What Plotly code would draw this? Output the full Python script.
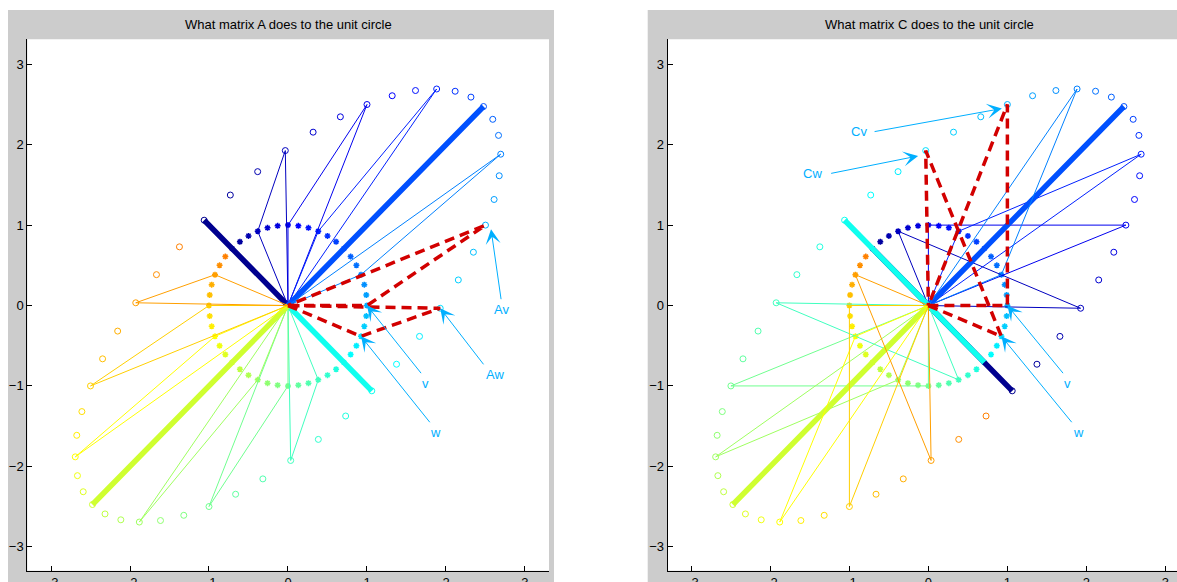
import plotly.graph_objects as go

# ---------------- data ----------------
# unit-circle sample points (asterisks), ordered as coloured (navy -> orange)
unit_x = [-0.707, -0.609, -0.5, -0.383, -0.259, -0.131, 0.0, 0.131, 0.259, 0.383, 0.5, 0.609,
          0.707, 0.793, 0.866, 0.924, 0.966, 0.991, 1.0, 0.991, 0.966, 0.924, 0.866, 0.793,
          0.707, 0.609, 0.5, 0.383, 0.259, 0.131, 0.0, -0.131, -0.259, -0.383, -0.5, -0.609,
          -0.707, -0.793, -0.866, -0.924, -0.966, -0.991, -1.0, -0.991, -0.966, -0.924, -0.866, -0.793]
unit_y = [0.707, 0.793, 0.866, 0.924, 0.966, 0.991, 1.0, 0.991, 0.966, 0.924, 0.866, 0.793,
          0.707, 0.609, 0.5, 0.383, 0.259, 0.131, 0.0, -0.131, -0.259, -0.383, -0.5, -0.609,
          -0.707, -0.793, -0.866, -0.924, -0.966, -0.991, -1.0, -0.991, -0.966, -0.924, -0.866, -0.793,
          -0.707, -0.609, -0.5, -0.383, -0.259, -0.131, 0.0, 0.131, 0.259, 0.383, 0.5, 0.609]

# images of those points under matrix A (circles, left panel)
ellA_x = [-1.061, -0.730, -0.384, -0.034, 0.318, 0.663, 1.0, 1.319, 1.614, 1.882, 2.116, 2.316,
          2.475, 2.592, 2.665, 2.693, 2.674, 2.609, 2.5, 2.347, 2.156, 1.927, 1.665, 1.374,
          1.061, 0.730, 0.384, 0.034, -0.318, -0.663, -1.0, -1.319, -1.614, -1.882, -2.116, -2.316,
          -2.475, -2.592, -2.665, -2.693, -2.674, -2.609, -2.5, -2.347, -2.156, -1.927, -1.665, -1.374]
ellA_y = [1.061, 1.374, 1.665, 1.927, 2.156, 2.347, 2.5, 2.609, 2.674, 2.693, 2.665, 2.592,
          2.475, 2.316, 2.116, 1.882, 1.614, 1.319, 1.0, 0.663, 0.318, -0.034, -0.384, -0.730,
          -1.061, -1.374, -1.665, -1.927, -2.156, -2.347, -2.5, -2.609, -2.674, -2.693, -2.665, -2.592,
          -2.475, -2.316, -2.116, -1.882, -1.614, -1.319, -1.0, -0.663, -0.318, 0.034, 0.384, 0.730]

# images of the same points under matrix C (circles, right panel)
ellC_x = [1.061, 1.374, 1.665, 1.927, 2.156, 2.347, 2.5, 2.609, 2.674, 2.693, 2.665, 2.592,
          2.475, 2.316, 2.116, 1.882, 1.614, 1.319, 1.0, 0.663, 0.318, -0.034, -0.384, -0.730,
          -1.061, -1.374, -1.665, -1.927, -2.156, -2.347, -2.5, -2.609, -2.674, -2.693, -2.665, -2.592,
          -2.475, -2.316, -2.116, -1.882, -1.614, -1.319, -1.0, -0.663, -0.318, 0.034, 0.384, 0.730]
ellC_y = [-1.061, -0.730, -0.384, -0.034, 0.318, 0.663, 1.0, 1.319, 1.614, 1.882, 2.116, 2.316,
          2.475, 2.592, 2.665, 2.693, 2.674, 2.609, 2.5, 2.347, 2.156, 1.927, 1.665, 1.374,
          1.061, 0.730, 0.384, 0.034, -0.318, -0.663, -1.0, -1.319, -1.614, -1.882, -2.116, -2.316,
          -2.475, -2.592, -2.665, -2.693, -2.674, -2.609, -2.5, -2.347, -2.156, -1.927, -1.665, -1.374]

# per-point colours (jet-like, navy -> orange)
point_colors = [
    "#00008f", "#00009f", "#0000af", "#0000bf", "#0000cf", "#0000df", "#0000ef", "#0000ff",
    "#0010ff", "#0020ff", "#0030ff", "#0040ff", "#0050ff", "#0060ff", "#0070ff", "#0080ff",
    "#008fff", "#009fff", "#00afff", "#00bfff", "#00cfff", "#00dfff", "#00efff", "#00ffff",
    "#10ffef", "#20ffdf", "#30ffcf", "#40ffbf", "#50ffaf", "#60ff9f", "#70ff8f", "#80ff80",
    "#8fff70", "#9fff60", "#afff50", "#bfff40", "#cfff30", "#dfff20", "#efff10", "#ffff00",
    "#ffef00", "#ffdf00", "#ffcf00", "#ffbf00", "#ffaf00", "#ff9f00", "#ff8f00", "#ff8000"]

# which points get a triangle (origin -> point -> image -> origin); 1-based indices
thin_idx = [4, 7, 10, 16, 28, 31, 34, 40, 43, 46]
thick_idx = [1, 13, 25, 37]
red_idx = [19, 22]          # v and w

panel_titles = ["What matrix A does to the unit circle", "What matrix C does to the unit circle"]
tick_vals = [-3, -2, -1, 0, 1, 2, 3]

# arrow annotations: (label, label_x, label_y, tail_x, tail_y, tip_x, tip_y)
arrows_A = [
    ("v", 1.74, -0.97, 1.70, -0.86, 1.0, 0.0),
    ("w", 1.87, -1.58, 1.81, -1.47, 0.924, -0.383),
    ("Av", 2.70, -0.05, 2.70, 0.06, 2.57, 0.95),
    ("Aw", 2.62, -0.86, 2.49, -0.75, 1.927, -0.034),
]
arrows_C = [
    ("v", 1.76, -0.97, 1.72, -0.86, 1.0, 0.0),
    ("w", 1.90, -1.58, 1.83, -1.47, 0.924, -0.383),
    ("Cv", -0.88, 2.16, -0.70, 2.16, 0.93, 2.45),
    ("Cw", -1.47, 1.64, -1.25, 1.64, -0.13, 1.86),
]

# ---------------- figure ----------------
W, H = 1177, 582
FONT = "Liberation Sans, Arial, Helvetica, sans-serif"
LABEL_COLOR = "#00afff"
RED = "rgb(210,0,0)"

fig = go.Figure()


def add_panel(ell_x, ell_y, xa, ya):
    # unit circle asterisks
    fig.add_trace(go.Scatter(x=unit_x, y=unit_y, mode="markers", xaxis=xa, yaxis=ya,
                             marker=dict(symbol="asterisk-open", size=5, color=point_colors,
                                         line=dict(width=1.5, color=point_colors)),
                             showlegend=False, hoverinfo="skip"))
    # ellipse circles
    fig.add_trace(go.Scatter(x=ell_x, y=ell_y, mode="markers", xaxis=xa, yaxis=ya,
                             marker=dict(symbol="circle-open", size=6, color=point_colors,
                                         line=dict(width=1.0, color=point_colors)),
                             showlegend=False, hoverinfo="skip"))
    order = sorted(thin_idx + thick_idx)
    for k in order:
        i = k - 1
        w = 5.5 if k in thick_idx else 1.0
        fig.add_trace(go.Scatter(x=[0, unit_x[i], ell_x[i], 0], y=[0, unit_y[i], ell_y[i], 0],
                                 mode="lines", xaxis=xa, yaxis=ya,
                                 line=dict(color=point_colors[i], width=w),
                                 showlegend=False, hoverinfo="skip"))
    for k in red_idx:
        i = k - 1
        fig.add_trace(go.Scatter(x=[0, unit_x[i], ell_x[i], 0], y=[0, unit_y[i], ell_y[i], 0],
                                 mode="lines", xaxis=xa, yaxis=ya,
                                 line=dict(color=RED, width=3.5, dash="10px,6px"),
                                 showlegend=False, hoverinfo="skip"))


add_panel(ellA_x, ellA_y, "x", "y")
add_panel(ellC_x, ellC_y, "x2", "y2")

annotations = []
for arrows, xr, yr in [(arrows_A, "x", "y"), (arrows_C, "x2", "y2")]:
    for lab, lx, ly, tx, ty, hx, hy in arrows:
        annotations.append(dict(x=hx, y=hy, ax=tx, ay=ty, xref=xr, yref=yr, axref=xr, ayref=yr,
                                text="", showarrow=True, arrowhead=3, arrowsize=2.5, arrowwidth=1,
                                arrowcolor=LABEL_COLOR, standoff=0, startstandoff=0))
        annotations.append(dict(x=lx, y=ly, xref=xr, yref=yr, text=lab, showarrow=False,
                                font=dict(family=FONT, size=13, color=LABEL_COLOR),
                                xanchor="center", yanchor="middle"))

# panel titles
annotations.append(dict(x=288.4 / W, y=1 - 25 / H, xref="paper", yref="paper", text=panel_titles[0],
                        showarrow=False, font=dict(family=FONT, size=13, color="#000000"),
                        xanchor="center", yanchor="middle"))
annotations.append(dict(x=929.5 / W, y=1 - 25 / H, xref="paper", yref="paper", text=panel_titles[1],
                        showarrow=False, font=dict(family=FONT, size=13, color="#000000"),
                        xanchor="center", yanchor="middle"))

GRAY = "#cccccc"
shapes = [
    dict(type="rect", xref="paper", yref="paper", x0=8 / W, x1=554 / W, y0=-0.05, y1=1 - 10 / H,
         fillcolor=GRAY, line=dict(width=0), layer="below"),
    dict(type="rect", xref="paper", yref="paper", x0=647.7 / W, x1=1.05, y0=-0.05, y1=1 - 10 / H,
         fillcolor=GRAY, line=dict(width=0), layer="below"),
    dict(type="rect", xref="paper", yref="paper", x0=27.3 / W, x1=549 / W, y0=1 - 570.7 / H, y1=1 - 39.3 / H,
         fillcolor="white", line=dict(width=0), layer="below"),
    dict(type="rect", xref="paper", yref="paper", x0=667.7 / W, x1=1.05, y0=1 - 570.7 / H, y1=1 - 39.3 / H,
         fillcolor="white", line=dict(width=0), layer="below"),
]

axis_common = dict(tickvals=tick_vals, ticks="inside", ticklen=5, tickwidth=1, tickcolor="black",
                   showline=True, linecolor="black", linewidth=1, showgrid=False, zeroline=False,
                   tickfont=dict(family=FONT, size=13, color="black"), mirror=False, automargin=False)

fig.update_layout(
    width=W, height=H, margin=dict(l=0, r=0, t=0, b=0, autoexpand=False),
    paper_bgcolor="white", plot_bgcolor="rgba(0,0,0,0)",
    xaxis=dict(domain=[27.3 / W, 549 / W], range=[-3.3, 3.304], anchor="y", **axis_common),
    yaxis=dict(domain=[1 - 570.7 / H, 1 - 39.3 / H], range=[-3.298, 3.311], anchor="x", **axis_common),
    xaxis2=dict(domain=[667.7 / W, 1.0], range=[-3.3, 3.147], anchor="y2", **axis_common),
    yaxis2=dict(domain=[1 - 570.7 / H, 1 - 39.3 / H], range=[-3.298, 3.311], anchor="x2", **axis_common),
    annotations=annotations, shapes=shapes, showlegend=False,
)

fig.write_html("out.html", config={"displayModeBar": False},
               post_script="document.body.style.margin='0';document.body.style.overflow='hidden';")
